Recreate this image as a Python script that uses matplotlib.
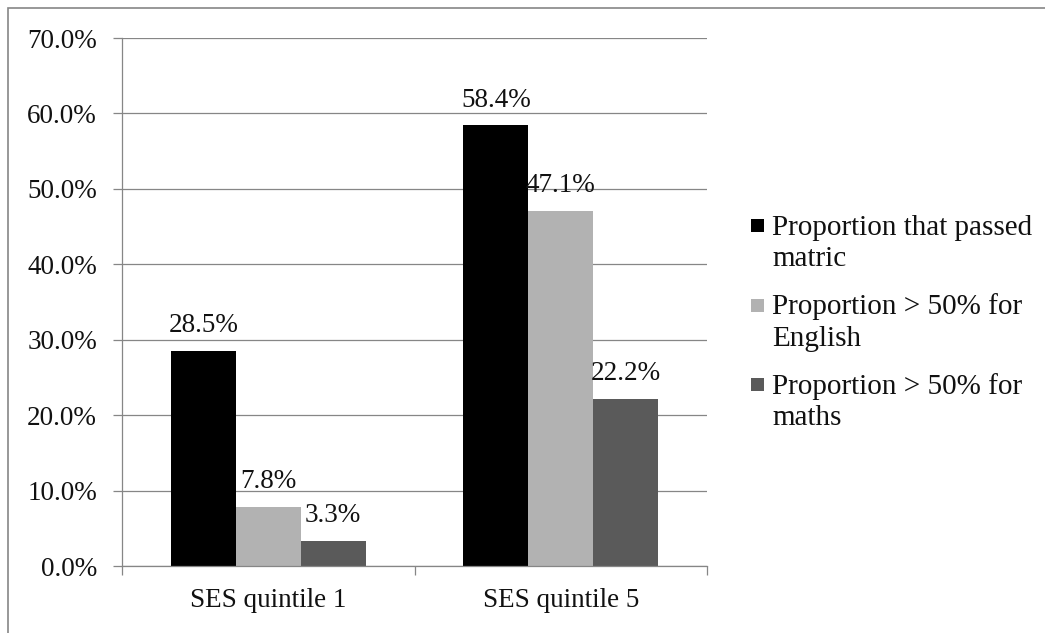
import matplotlib
matplotlib.use("Agg")
import matplotlib.pyplot as plt
from matplotlib.patches import Rectangle
from matplotlib.ticker import FixedLocator, FuncFormatter

# --- data -------------------------------------------------------------
categories = ["SES quintile 1", "SES quintile 5"]
series_names = [
    "Proportion that passed\nmatric",
    "Proportion > 50% for\nEnglish",
    "Proportion > 50% for\nmaths",
]
passed_matric = [0.285, 0.584]
english_over_50 = [0.078, 0.471]
maths_over_50 = [0.033, 0.222]
y_ticks = [0.0, 0.1, 0.2, 0.3, 0.4, 0.5, 0.6, 0.7]

series_values = [passed_matric, english_over_50, maths_over_50]
series_colors = ["#000000", "#b2b2b2", "#5a5a5a"]

# --- styling ----------------------------------------------------------
W, H = 1045, 633
DPI = 100
GREY = "#868686"
FONT = "Liberation Serif"
plt.rcParams["font.family"] = [FONT, "DejaVu Serif"]

fig = plt.figure(figsize=(W / DPI, H / DPI), dpi=DPI)


def fx(px):
    return px / W


def fy(py_top):
    return 1 - py_top / H


# plot area (pixel box 122..707 horizontally, 38..566 vertically)
ax = fig.add_axes([fx(122), fy(566), fx(707) - fx(122), fy(38) - fy(566)])

n_series = len(series_values)
bar_w = 0.222
centers = [i + 0.5 for i in range(len(categories))]
for s, (vals, col) in enumerate(zip(series_values, series_colors)):
    offs = (s - (n_series - 1) / 2) * bar_w
    xs = [c + offs for c in centers]
    bars = ax.bar(xs, vals, width=bar_w, color=col, zorder=3)
    for b, v in zip(bars, vals):
        ax.annotate(f"{v * 100:.1f}%",
                    xy=(b.get_x() + b.get_width() / 2, v),
                    xytext=(0, 13.5), textcoords="offset points",
                    ha="center", va="baseline", fontsize=19.5,
                    color="#111111", zorder=4)

ax.set_xlim(0, len(categories))
ax.set_ylim(y_ticks[0], y_ticks[-1])

# y axis
ax.yaxis.set_major_locator(FixedLocator(y_ticks))
ax.yaxis.set_major_formatter(FuncFormatter(lambda v, _: f"{v * 100:.1f}%"))
ax.tick_params(axis="y", which="major", length=6.5, width=0.9, color=GREY,
               pad=11.5, labelsize=19.5, labelcolor="#111111")
ax.grid(axis="y", color=GREY, linewidth=0.9, zorder=0)

# x axis: labels at category centres, tick marks at the boundaries
ax.set_xticks(centers)
ax.set_xticklabels(categories)
ax.set_xticks(range(len(categories) + 1), minor=True)
ax.tick_params(axis="x", which="major", length=0, pad=15.5, labelsize=19.5,
               labelcolor="#111111")
ax.tick_params(axis="x", which="minor", length=6.5, width=0.9, color=GREY)

for side in ("top", "right"):
    ax.spines[side].set_visible(False)
for side in ("left", "bottom"):
    ax.spines[side].set_color(GREY)
    ax.spines[side].set_linewidth(0.9)
    ax.spines[side].set_zorder(5)

# legend: swatch beside the first line of each wrapped label
first_baseline = 235
entry_step = 79.5
line_step = 31
sq = 13
for i, (name, col) in enumerate(zip(series_names, series_colors)):
    base = first_baseline + i * entry_step
    fig.patches.append(Rectangle((fx(751), fy(base - 3)), fx(sq), fy(0) - fy(sq),
                                 transform=fig.transFigure, facecolor=col,
                                 edgecolor="none"))
    for j, line in enumerate(name.split("\n")):
        fig.text(fx(772), fy(base + j * line_step), line, ha="left",
                 va="baseline", fontsize=21, color="#111111")

# chart frame (runs off the right and bottom edges)
fig.patches.append(Rectangle((fx(8), -0.1), 1.2, fy(8) + 0.1,
                             transform=fig.transFigure, facecolor="none",
                             edgecolor=GREY, linewidth=1.2))

fig.savefig("out.png", dpi=DPI)
